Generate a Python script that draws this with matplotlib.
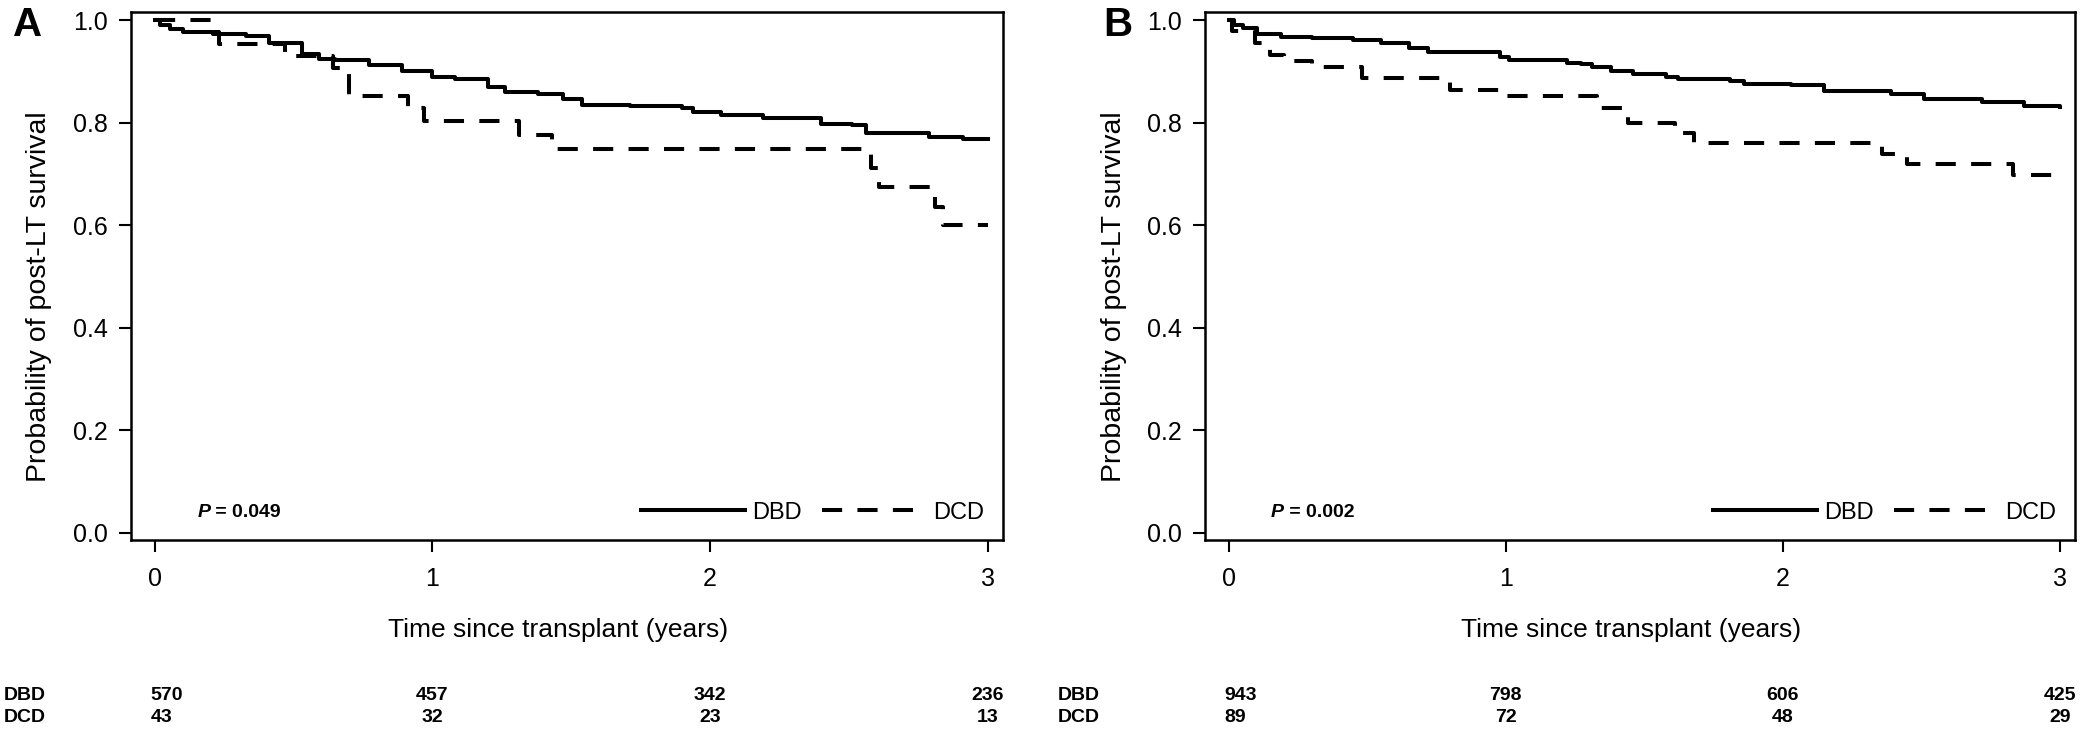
import matplotlib
matplotlib.use("Agg")
from matplotlib import pyplot as plt
from matplotlib import transforms

plt.rcParams['font.family'] = ['Liberation Sans', 'DejaVu Sans']

# panel A: DBD / DCD survival curves (time in years, survival probability)
a_dbd_t = [0, 0.02, 0.053, 0.10, 0.21, 0.33, 0.41, 0.53, 0.59, 0.65, 0.77, 0.89, 1.0, 1.08, 1.2, 1.26,
           1.38, 1.47, 1.54, 1.71, 1.9, 1.94, 2.04, 2.19, 2.40, 2.51, 2.56, 2.79, 2.91, 3.0]
a_dbd_s = [1.0, 0.99, 0.982, 0.977, 0.973, 0.969, 0.955, 0.935, 0.925, 0.922, 0.912, 0.901, 0.89, 0.886,
           0.87, 0.86, 0.857, 0.847, 0.834, 0.832, 0.828, 0.821, 0.815, 0.81, 0.798, 0.796, 0.78, 0.773,
           0.768, 0.768]
a_dcd_t = [0, 0.21, 0.23, 0.47, 0.64, 0.70, 0.91, 0.97, 1.31, 1.43, 2.58, 2.61, 2.81, 2.84, 3.0]
a_dcd_s = [1.0, 0.977, 0.953, 0.930, 0.907, 0.852, 0.828, 0.804, 0.776, 0.748, 0.711, 0.675, 0.636,
           0.600, 0.600]

# panel B
b_dbd_t = [0, 0.02, 0.05, 0.10, 0.19, 0.30, 0.45, 0.55, 0.65, 0.72, 0.98, 1.01, 1.22, 1.27, 1.31, 1.38,
           1.46, 1.58, 1.62, 1.81, 1.86, 2.03, 2.15, 2.39, 2.51, 2.72, 2.87, 3.0]
b_dbd_s = [1.0, 0.99, 0.985, 0.973, 0.968, 0.965, 0.961, 0.955, 0.945, 0.937, 0.929, 0.922, 0.916,
           0.915, 0.908, 0.901, 0.895, 0.889, 0.886, 0.882, 0.876, 0.873, 0.862, 0.857, 0.847, 0.841,
           0.832, 0.830]
b_dcd_t = [0, 0.01, 0.095, 0.15, 0.20, 0.30, 0.48, 0.80, 0.98, 1.33, 1.44, 1.61, 1.68, 2.36, 2.45,
           2.83, 3.0]
b_dcd_s = [1.0, 0.978, 0.955, 0.933, 0.92, 0.909, 0.888, 0.864, 0.853, 0.828, 0.80, 0.78, 0.76, 0.739,
           0.719, 0.698, 0.698]

# numbers at risk
risk_times = [0, 1, 2, 3]
a_risk_dbd = [570, 457, 342, 236]
a_risk_dcd = [43, 32, 23, 13]
b_risk_dbd = [943, 798, 606, 425]
b_risk_dcd = [89, 72, 48, 29]

p_values = ["0.049", "0.002"]
panel_letters = ["A", "B"]

W, H = 2080, 730
fig = plt.figure(figsize=(20.8, 7.3), dpi=100)
ax_a = fig.add_axes([131/W, 1-540/H, 872/W, 528/H])
ax_b = fig.add_axes([1205/W, 1-540/H, 870/W, 528/H])

panels = [
    (ax_a, a_dbd_t, a_dbd_s, a_dcd_t, a_dcd_s, a_risk_dbd, a_risk_dcd, 28/W, 4/W),
    (ax_b, b_dbd_t, b_dbd_s, b_dcd_t, b_dcd_s, b_risk_dbd, b_risk_dcd, 1118/W, 1058/W),
]

for i, (ax, t1, s1, t2, s2, r1, r2, letter_x, row_x) in enumerate(panels):
    ax.plot(t1, s1, drawstyle='steps-post', color='black', lw=2.9, label='DBD')
    ax.plot(t2, s2, drawstyle='steps-post', color='black', lw=2.9, linestyle=(0, (5.0, 3.8)),
            label='DCD')
    ax.set_xlim(-0.086, 3.055)
    ax.set_ylim(-0.014, 1.016)
    ax.set_xticks([0, 1, 2, 3])
    ax.set_yticks([0.0, 0.2, 0.4, 0.6, 0.8, 1.0])
    ax.set_yticklabels(['0.0', '0.2', '0.4', '0.6', '0.8', '1.0'])
    ax.tick_params(direction='out', length=8.6, width=1.5, labelsize=18, colors='black')
    ax.tick_params(axis='x', pad=11)
    ax.tick_params(axis='y', pad=8)
    for sp in ax.spines.values():
        sp.set_linewidth(1.8)

    ax.text(-0.105, 0.46, 'Probability of post-LT survival', transform=ax.transAxes, rotation=90,
            ha='center', va='center', fontsize=20.5)
    ax.text(0.49, -0.17, 'Time since transplant (years)', transform=ax.transAxes,
            ha='center', va='center', fontsize=19)

    ax.legend(ncol=2, loc='center right', bbox_to_anchor=(0.978, 0.052), frameon=False,
              fontsize=17, handlelength=4.4, handletextpad=0.3, columnspacing=0.85, borderpad=0,
              borderaxespad=0)

    ptxt = ax.text(0.076, 0.053, 'P', transform=ax.transAxes, ha='left', va='center',
                   fontsize=14, fontweight='bold', fontstyle='italic')
    ax.annotate(' = ' + p_values[i], xy=(1, 0.5), xycoords=ptxt, ha='left', va='center',
                fontsize=14, fontweight='bold')

    fig.text(letter_x, 1-25/H, panel_letters[i], ha='center', va='center', fontsize=29,
             fontweight='bold')

    # number-at-risk table under the panel
    tr = transforms.blended_transform_factory(ax.transData, fig.transFigure)
    fig.text(row_x, 1-695/H, 'DBD', ha='left', va='center', fontsize=14, fontweight='bold')
    fig.text(row_x, 1-718/H, 'DCD', ha='left', va='center', fontsize=14, fontweight='bold')
    for j, t in enumerate(risk_times):
        ha = 'left' if j == 0 else 'center'
        x0 = -0.015 if j == 0 else t
        ax.text(x0, 1-695/H, str(r1[j]), transform=tr, ha=ha, va='center', fontsize=14,
                fontweight='bold')
        ax.text(x0, 1-718/H, str(r2[j]), transform=tr, ha=ha, va='center', fontsize=14,
                fontweight='bold')

fig.savefig('out.png', dpi=100)
